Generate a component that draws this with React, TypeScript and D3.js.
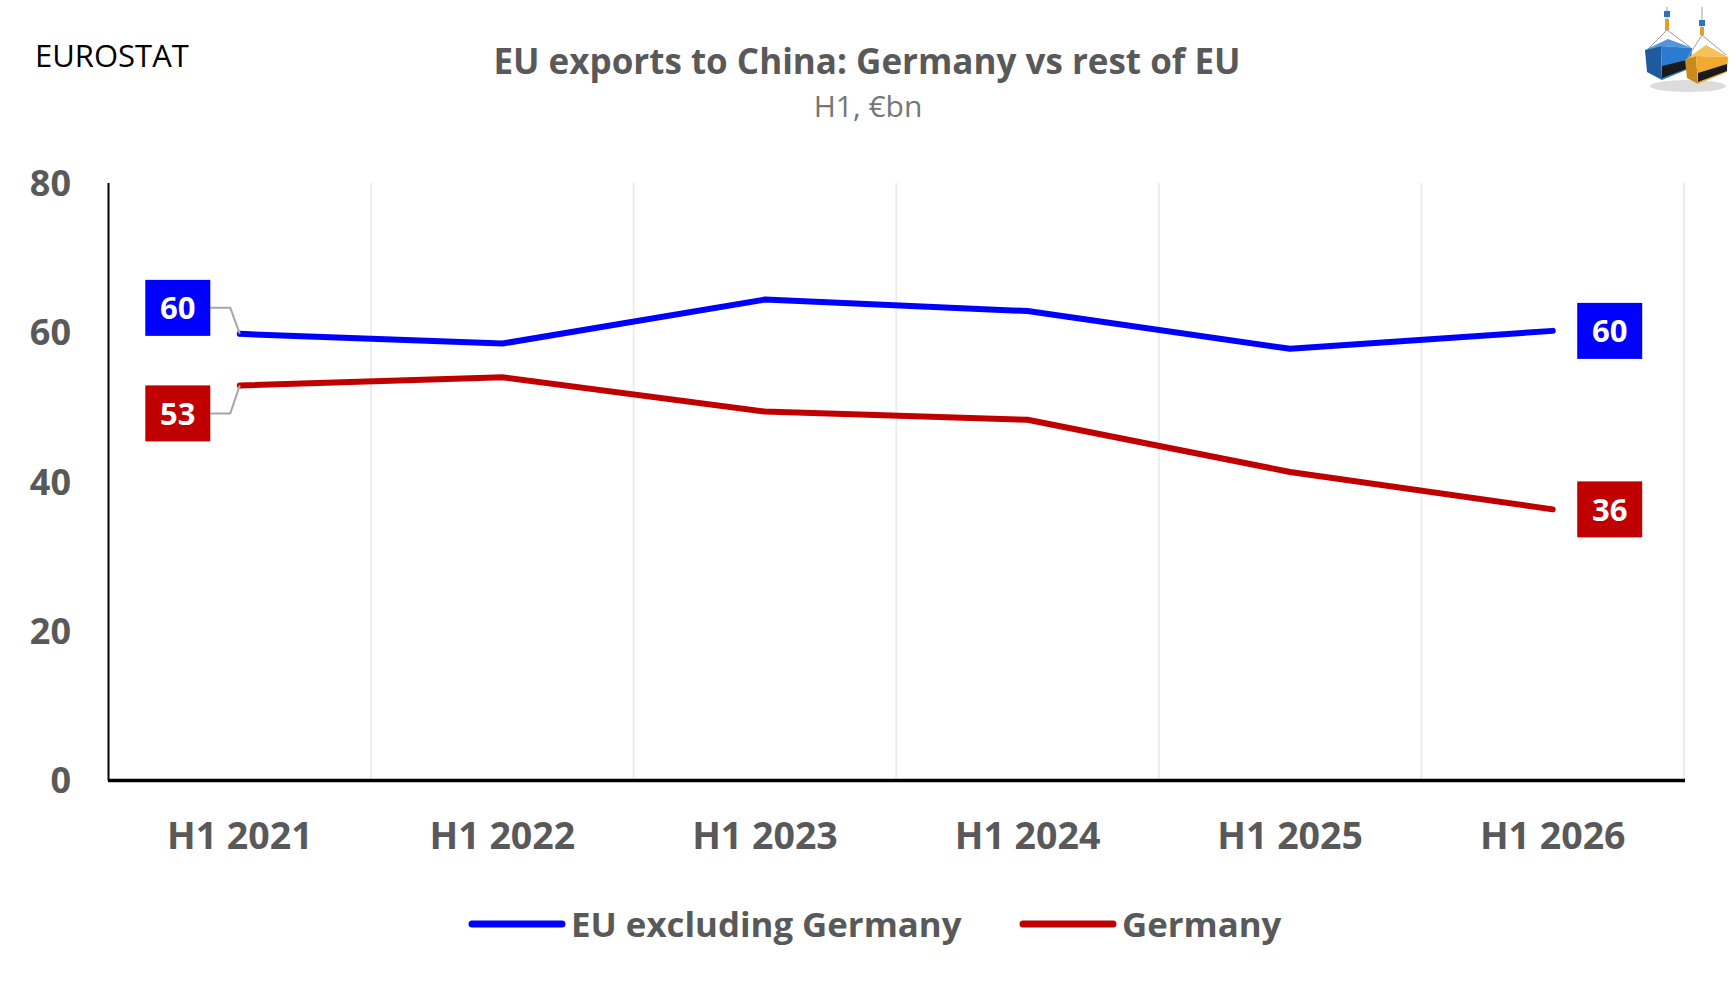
import React from "react";
import * as d3 from "d3";

const categories = ["H1 2021", "H1 2022", "H1 2023", "H1 2024", "H1 2025", "H1 2026"];
const euExGermany = [59.8, 58.5, 64.4, 62.85, 57.8, 60.2];
const germany = [52.9, 54.0, 49.4, 48.3, 41.3, 36.3];
const yTicks = [0, 20, 40, 60, 80];
const seriesNames = ["EU excluding Germany", "Germany"];
const seriesColors = ["#0000ff", "#c00000"];

const W = 1736;
const H = 990;
const FONT = "'Open Sans', 'Noto Sans', sans-serif";
const GRAY = "#595959";

export default function App() {
  const x = d3.scaleBand<string>().domain(categories).range([108.5, 1684]);
  const y = d3.scaleLinear().domain([0, 80]).range([780.5, 183]);
  const cx = (c: string) => (x(c) ?? 0) + x.bandwidth() / 2;

  const line = d3
    .line<number>()
    .x((_, i) => cx(categories[i]))
    .y((d) => y(d));

  const series = [euExGermany, germany];
  const boundaries = categories.map((c) => (x(c) ?? 0) + x.bandwidth());

  const first = categories[0];
  const last = categories[categories.length - 1];
  const boxW = 65;
  const boxH = 56;

  const leftOffsets = [-26, 28];
  const leftBoxCx = cx(first) - 62;

  return (
    <svg
      width={W}
      height={H}
      style={{ position: "absolute", left: 0, top: 0, background: "#fff" }}
      fontFamily={FONT}
    >
      <rect width={W} height={H} fill="#fff" />
      {/* header */}
      <text x={35} y={67} fontSize={31} fill="#000">EUROSTAT</text>
      <text x={867} y={74} textAnchor="middle" fontSize={35} fontWeight={700} fill={GRAY}>
        EU exports to China: Germany vs rest of EU
      </text>
      <text x={868} y={117} textAnchor="middle" fontSize={30} fill="#767676">
        H1, €bn
      </text>

      {/* logo (soapbox containers) */}
      <g>
        <ellipse cx={1688} cy={86} rx={38} ry={6} fill="#dcdcdc" />
        {/* blue hook */}
        <line x1={1667} y1={7} x2={1667} y2={30} stroke="#b0b0b0" strokeWidth={1.2} />
        <rect x={1664} y={11} width={6} height={6} fill="#2a72c0" />
        <rect x={1665} y={19} width={4} height={11} fill="#e0a030" />
        <line x1={1667} y1={30} x2={1648} y2={49} stroke="#999" strokeWidth={1} />
        <line x1={1667} y1={30} x2={1690} y2={47} stroke="#999" strokeWidth={1} />
        {/* blue container */}
        <polygon points="1645,50 1668,39 1692,48 1661,46" fill="#4f95e0" />
        <polygon points="1645,50 1661,46 1662,80 1647,72" fill="#1d5a9e" />
        <polygon points="1661,46 1692,48 1691,68 1662,80" fill="#2b7bd0" />
        <polygon points="1662,66 1691,59 1691,67 1662,78" fill="#1a1a1a" />
        {/* orange hook */}
        <line x1={1702} y1={7} x2={1702} y2={34} stroke="#b0b0b0" strokeWidth={1.2} />
        <rect x={1699} y={20} width={6} height={6} fill="#2a72c0" />
        <rect x={1700} y={27} width={4} height={8} fill="#e0a030" />
        <line x1={1702} y1={35} x2={1688} y2={57} stroke="#999" strokeWidth={1} />
        <line x1={1702} y1={35} x2={1726} y2={55} stroke="#999" strokeWidth={1} />
        {/* orange container */}
        <polygon points="1685,60 1706,45 1728,57 1696,56" fill="#f7c15a" />
        <polygon points="1685,60 1696,56 1698,84 1687,78" fill="#c98a1c" />
        <polygon points="1696,56 1728,57 1727,72 1698,84" fill="#f0aa30" />
        <polygon points="1698,73 1727,64 1727,71 1698,82" fill="#1a1a1a" />
      </g>

      {/* vertical gridlines */}
      {boundaries.map((b, i) => (
        <line key={i} x1={b} x2={b} y1={y(80)} y2={y(0)} stroke="#ececec" strokeWidth={2} />
      ))}

      {/* y axis */}
      <line x1={108.5} x2={108.5} y1={y(80)} y2={y(0)} stroke="#000" strokeWidth={2} />
      {yTicks.map((t) => (
        <text
          key={t}
          x={71}
          y={y(t)}
          dy="0.36em"
          textAnchor="end"
          fontSize={36}
          fontWeight={700}
          fill={GRAY}
        >
          {t}
        </text>
      ))}

      {/* x axis */}
      <line x1={108} x2={1685} y1={y(0)} y2={y(0)} stroke="#000" strokeWidth={3.5} />
      {categories.map((c) => (
        <text
          key={c}
          x={cx(c)}
          y={835}
          dy="0.36em"
          textAnchor="middle"
          fontSize={37.5}
          fontWeight={700}
          fill={GRAY}
        >
          {c}
        </text>
      ))}

      {/* lines */}
      {series.map((s, i) => (
        <path
          key={i}
          d={line(s) ?? ""}
          fill="none"
          stroke={seriesColors[i]}
          strokeWidth={6}
          strokeLinecap="round"
          strokeLinejoin="round"
        />
      ))}

      {/* left labels with leaders */}
      {series.map((s, i) => {
        const py = y(s[0]);
        const by = py + leftOffsets[i];
        const boxRight = leftBoxCx + boxW / 2;
        return (
          <g key={"l" + i}>
            <polyline
              points={`${boxRight},${by} ${boxRight + 20},${by} ${cx(first)},${py}`}
              fill="none"
              stroke="#a6a6a6"
              strokeWidth={2}
            />
            <rect x={leftBoxCx - boxW / 2} y={by - boxH / 2} width={boxW} height={boxH} fill={seriesColors[i]} />
            <text
              x={leftBoxCx}
              y={by}
              dy="0.36em"
              textAnchor="middle"
              fontSize={31}
              fontWeight={700}
              fill="#fff"
            >
              {Math.round(s[0])}
            </text>
          </g>
        );
      })}

      {/* right labels */}
      {series.map((s, i) => {
        const v = s[s.length - 1];
        const py = y(v);
        const bx = cx(last) + 57;
        return (
          <g key={"r" + i}>
            <rect x={bx - boxW / 2} y={py - boxH / 2} width={boxW} height={boxH} fill={seriesColors[i]} />
            <text x={bx} y={py} dy="0.36em" textAnchor="middle" fontSize={31} fontWeight={700} fill="#fff">
              {Math.round(v)}
            </text>
          </g>
        );
      })}

      {/* legend */}
      {seriesNames.map((n, i) => {
        const lx = [472, 1023][i];
        return (
          <g key={n}>
            <line
              x1={lx}
              x2={lx + 90}
              y1={924}
              y2={924}
              stroke={seriesColors[i]}
              strokeWidth={7}
              strokeLinecap="round"
            />
            <text x={lx + 99} y={924} dy="0.36em" fontSize={34.8} fontWeight={700} fill={GRAY}>
              {n}
            </text>
          </g>
        );
      })}
    </svg>
  );
}
